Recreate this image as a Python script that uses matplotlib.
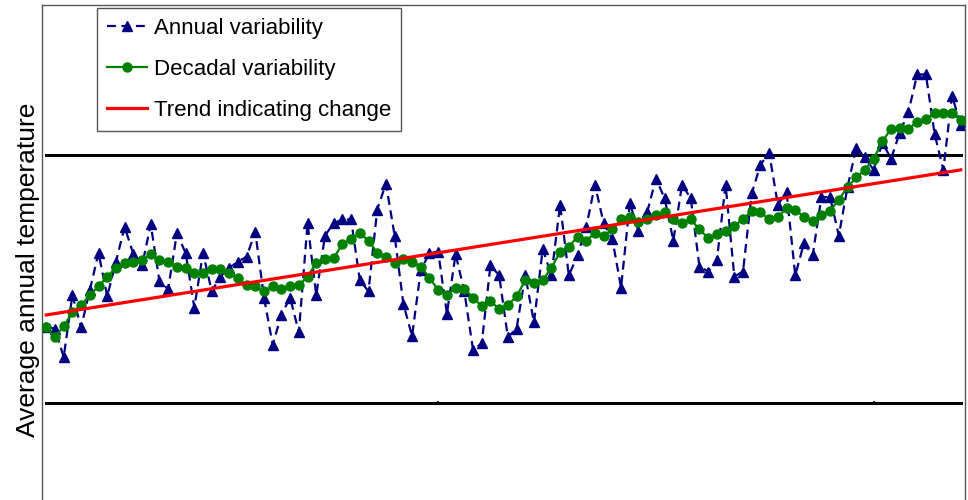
import numpy as np
import matplotlib
matplotlib.use("Agg")
import matplotlib.pyplot as plt

plt.rcParams['font.family'] = ['Liberation Sans', 'DejaVu Sans']

# years (x positions) and temperature anomalies
years = np.arange(1900, 2006)

annual = [
    -0.39, -0.40, -0.63, -0.13, -0.39, -0.09, 0.21, -0.14, 0.14, 0.42,
    0.20, 0.11, 0.44, -0.02, -0.08, 0.37, 0.21, -0.23, 0.21, -0.10,
    0.02, 0.09, 0.14, 0.18, 0.38, -0.15, -0.53, -0.29, -0.15, -0.43,
    0.45, -0.13, 0.35, 0.45, 0.48, 0.48, -0.01, -0.10, 0.56, 0.77,
    0.35, -0.20, -0.46, 0.07, 0.21, 0.22, -0.28, 0.20, -0.10, -0.57,
    -0.52, 0.11, 0.03, -0.47, -0.40, 0.03, -0.35, 0.24, 0.03, 0.60,
    0.03, 0.19, 0.42, 0.76, 0.45, 0.32, -0.07, 0.61, 0.39, 0.54,
    0.81, 0.65, 0.31, 0.76, 0.65, 0.10, 0.06, 0.15, 0.76, 0.02,
    0.06, 0.69, 0.92, 1.02, 0.60, 0.70, 0.03, 0.29, 0.19, 0.66,
    0.66, 0.35, 0.74, 1.06, 0.98, 0.88, 1.10, 0.97, 1.18, 1.35,
    1.65, 1.65, 1.17, 0.88, 1.48, 1.24,
]

decadal = [
    -0.39, -0.47, -0.38, -0.27, -0.21, -0.13, -0.06, 0.02, 0.09, 0.13,
    0.14, 0.15, 0.20, 0.15, 0.14, 0.10, 0.09, 0.05, 0.05, 0.08,
    0.08, 0.05, 0.01, -0.05, -0.06, -0.10, -0.06, -0.08, -0.06, -0.05,
    0.02, 0.13, 0.16, 0.17, 0.28, 0.32, 0.37, 0.31, 0.21, 0.18,
    0.13, 0.16, 0.14, 0.10, 0.01, -0.09, -0.13, -0.07, -0.08, -0.15,
    -0.22, -0.18, -0.24, -0.21, -0.14, -0.01, -0.03, -0.01, 0.09, 0.22,
    0.26, 0.34, 0.31, 0.37, 0.35, 0.40, 0.48, 0.50, 0.46, 0.48,
    0.52, 0.54, 0.48, 0.45, 0.48, 0.40, 0.33, 0.36, 0.39, 0.43,
    0.48, 0.55, 0.54, 0.48, 0.50, 0.57, 0.56, 0.50, 0.47, 0.52,
    0.55, 0.64, 0.74, 0.82, 0.88, 0.97, 1.11, 1.21, 1.22, 1.21,
    1.27, 1.29, 1.34, 1.34, 1.34, 1.28,
]

trend_years = [1900, 2005]
trend_vals = [-0.29, 0.88]

band = [-1.0, 1.0]          # reference levels (black lines)
mark_years = [1945, 1995]   # small tick marks on the lower line

fig = plt.figure(figsize=(9.68, 5.0), dpi=100)
ax = fig.add_axes([42 / 968, -0.04, 923 / 968, 1.03])

for b in band:
    ax.plot([years[0], years[-1]], [b, b], color='black', lw=2.2, zorder=1)
ax.plot(mark_years, [band[0]] * len(mark_years), ls='none', marker='|',
        color='black', ms=3, mew=1.2, zorder=1)

ax.plot(years, annual, color='#000080', lw=1.6, ls=(0, (4, 2.5)),
        marker='^', ms=6.5, label='Annual variability', zorder=2)
ax.plot(years, decadal, color='#008000', lw=1.6, marker='o', ms=6.5,
        label='Decadal variability', zorder=3)
ax.plot(trend_years, trend_vals, color='#ff0000', lw=2.3,
        label='Trend indicating change', zorder=4)

ax.set_xlim(years[0] - 0.49, years[-1] + 0.49)
ax.set_ylim(-1.944, 2.21)
ax.set_xticks([])
ax.set_yticks([])
for s in ax.spines.values():
    s.set_color('#555555')
    s.set_linewidth(1.0)

fig.text(28 / 968, 1 - 270 / 500, 'Average annual temperature', rotation=90,
         ha='center', va='center', fontsize=19)

leg = ax.legend(loc='upper left', bbox_to_anchor=(97 / 968, 1 - 8 / 500),
                bbox_transform=fig.transFigure, borderaxespad=0, fontsize=16,
                frameon=True, fancybox=False, edgecolor='#555555', framealpha=1,
                handlelength=1.8, handletextpad=0.3, labelspacing=0.9,
                borderpad=0.45, numpoints=1)
leg.get_frame().set_linewidth(1.0)

fig.savefig('out.png', dpi=100)
